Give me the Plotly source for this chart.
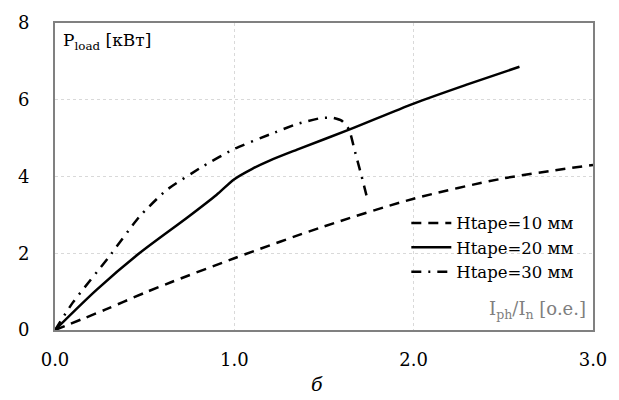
import plotly.graph_objects as go

x10 = [0.0, 0.28, 0.5, 0.65, 1.0, 1.5, 2.0, 2.5, 3.0]
y10 = [0.0, 0.53, 0.97, 1.25, 1.87, 2.7, 3.42, 3.95, 4.3]

x20 = [0.0, 0.23, 0.47, 0.74, 0.9, 1.0, 1.1, 1.2, 1.35, 1.64, 2.0, 2.3, 2.59]
y20 = [0.0, 1.04, 2.0, 2.94, 3.52, 3.93, 4.2, 4.42, 4.7, 5.22, 5.9, 6.4, 6.86]

x30 = [0.0, 0.1, 0.3, 0.47, 0.62, 0.83, 1.0, 1.2, 1.35, 1.48, 1.55, 1.6, 1.64, 1.67, 1.71, 1.74]
y30 = [0.0, 0.72, 1.9, 2.95, 3.64, 4.28, 4.72, 5.1, 5.37, 5.52, 5.53, 5.45, 5.22, 4.7, 4.0, 3.45]

names = ["Htape=10 мм", "Htape=20 мм", "Htape=30 мм"]
xticks = [0.0, 1.0, 2.0, 3.0]
xtick_text = ["0.0", "1.0", "2.0", "3.0"]
yticks = [0, 2, 4, 6, 8]

FONT = "DejaVu Serif"

fig = go.Figure()
fig.add_trace(go.Scatter(x=x10, y=y10, mode="lines", name=names[0],
                         line=dict(color="black", width=2.5, dash="10px,7px", shape="spline", smoothing=0.8)))
fig.add_trace(go.Scatter(x=x20, y=y20, mode="lines", name=names[1],
                         line=dict(color="black", width=2.5, shape="spline", smoothing=0.8)))
fig.add_trace(go.Scatter(x=x30, y=y30, mode="lines", name=names[2],
                         line=dict(color="black", width=2.5, dash="10px,7px,2px,7px", shape="spline", smoothing=0.5)))

fig.update_layout(
    width=619, height=400,
    margin=dict(l=55, r=17, t=22, b=70),
    paper_bgcolor="white", plot_bgcolor="white",
    font=dict(family=FONT, size=18, color="black"),
    showlegend=True,
    legend=dict(x=0.653, y=0.405, xanchor="left", yanchor="top",
                bgcolor="rgba(0,0,0,0)", font=dict(family=FONT, size=16.5),
                tracegroupgap=0, itemwidth=40),
    xaxis=dict(range=[0, 3], tickvals=xticks, ticktext=xtick_text,
               showgrid=True, gridcolor="#d9d9d9", griddash="dot", gridwidth=1,
               showline=True, linecolor="#808080", linewidth=2, mirror=True,
               ticks="", zeroline=False, ticklabelstandoff=12),
    yaxis=dict(range=[0, 8], tickvals=yticks,
               showgrid=True, gridcolor="#d9d9d9", griddash="dot", gridwidth=1,
               showline=True, linecolor="#808080", linewidth=2, mirror=True,
               ticks="", zeroline=False, ticklabelstandoff=20),
    annotations=[
        dict(text="P<sub>load</sub> [кВт]", xref="paper", yref="paper", x=0.012, y=0.985,
             xanchor="left", yanchor="top", showarrow=False, font=dict(family=FONT, size=17, color="black")),
        dict(text="I<sub>ph</sub>/I<sub>n</sub> [o.e.]", xref="paper", yref="paper", x=0.99, y=0.02,
             xanchor="right", yanchor="bottom", showarrow=False, font=dict(family=FONT, size=18, color="#7f7f7f")),
        dict(text="<i>б</i>", xref="paper", yref="paper", x=0.487, y=-0.175,
             xanchor="center", yanchor="middle", showarrow=False, font=dict(family=FONT, size=19, color="black")),
    ],
)

fig.write_html("out.html")
